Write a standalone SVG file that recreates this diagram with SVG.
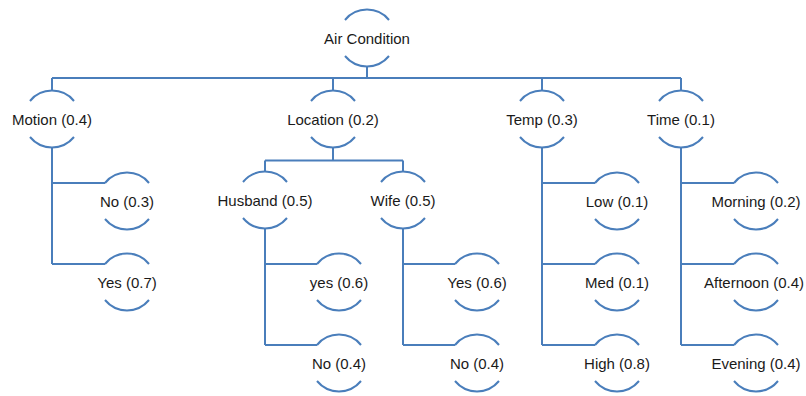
<svg xmlns="http://www.w3.org/2000/svg" xmlns:xlink="http://www.w3.org/1999/xlink" width="806" height="396" viewBox="0 0 806 396">
  <style>
    .ln { fill: none; stroke: #4a7ebb; stroke-width: 2; }
    .lbl { font-family: "Liberation Sans", Arial, sans-serif; font-size: 15px; fill: #1a1a1a; text-anchor: middle; }
  </style>
  <defs>
    <!-- node outline: circle r=28.5 with its sides left open for the label -->
    <path id="ring" class="ln" d="M -22 -18 A 28.5 28.5 0 0 1 22 -18 M 22 18 A 28.5 28.5 0 0 1 -22 18"/>
  </defs>
  <rect width="806" height="396" fill="#ffffff"/>

  <g id="connectors" class="ln">
    <!-- root to first level -->
    <path d="M 367 66.5 V 78 M 52 78 H 681 M 52 78 V 90.5 M 333 78 V 90.5 M 542 78 V 90.5 M 681 78 V 90.5"/>
    <!-- Motion -->
    <path d="M 52 147.5 V 264 M 52 183 H 105 M 52 264 H 105"/>
    <!-- Location -->
    <path d="M 333 147.5 V 160.5 M 265 160.5 H 403 M 265 160.5 V 171.5 M 403 160.5 V 171.5"/>
    <!-- Husband -->
    <path d="M 265 228.5 V 345 M 265 264 H 317 M 265 345 H 317"/>
    <!-- Wife -->
    <path d="M 403 228.5 V 345 M 403 264 H 455 M 403 345 H 455"/>
    <!-- Temp -->
    <path d="M 542 147.5 V 345 M 542 183 H 595 M 542 264 H 595 M 542 345 H 595"/>
    <!-- Time -->
    <path d="M 681 147.5 V 345 M 681 183 H 734 M 681 264 H 734 M 681 345 H 734"/>
  </g>

  <g id="air-condition"><use xlink:href="#ring" x="367" y="38"/><text class="lbl" x="367" y="43.5">Air Condition</text></g>

  <g id="motion"><use xlink:href="#ring" x="52" y="119"/><text class="lbl" x="52" y="124.5">Motion (0.4)</text></g>
  <g id="location"><use xlink:href="#ring" x="333" y="119"/><text class="lbl" x="333" y="124.5">Location (0.2)</text></g>
  <g id="temp"><use xlink:href="#ring" x="542" y="119"/><text class="lbl" x="542" y="124.5">Temp (0.3)</text></g>
  <g id="time"><use xlink:href="#ring" x="681" y="119"/><text class="lbl" x="681" y="124.5">Time (0.1)</text></g>

  <g id="motion-no"><use xlink:href="#ring" x="127" y="201"/><text class="lbl" x="127" y="206.5">No (0.3)</text></g>
  <g id="motion-yes"><use xlink:href="#ring" x="127" y="282"/><text class="lbl" x="127" y="287.5">Yes (0.7)</text></g>

  <g id="husband"><use xlink:href="#ring" x="265" y="200"/><text class="lbl" x="265" y="205.5">Husband (0.5)</text></g>
  <g id="wife"><use xlink:href="#ring" x="403" y="200"/><text class="lbl" x="403" y="205.5">Wife (0.5)</text></g>

  <g id="husband-yes"><use xlink:href="#ring" x="339" y="282"/><text class="lbl" x="339" y="287.5">yes (0.6)</text></g>
  <g id="husband-no"><use xlink:href="#ring" x="339" y="363"/><text class="lbl" x="339" y="368.5">No (0.4)</text></g>
  <g id="wife-yes"><use xlink:href="#ring" x="477" y="282"/><text class="lbl" x="477" y="287.5">Yes (0.6)</text></g>
  <g id="wife-no"><use xlink:href="#ring" x="477" y="363"/><text class="lbl" x="477" y="368.5">No (0.4)</text></g>

  <g id="temp-low"><use xlink:href="#ring" x="617" y="201"/><text class="lbl" x="617" y="206.5">Low (0.1)</text></g>
  <g id="temp-med"><use xlink:href="#ring" x="617" y="282"/><text class="lbl" x="617" y="287.5">Med (0.1)</text></g>
  <g id="temp-high"><use xlink:href="#ring" x="617" y="363"/><text class="lbl" x="617" y="368.5">High (0.8)</text></g>

  <g id="time-morning"><use xlink:href="#ring" x="756" y="201"/><text class="lbl" x="756" y="206.5">Morning (0.2)</text></g>
  <g id="time-afternoon"><use xlink:href="#ring" x="756" y="282"/><text class="lbl" x="754" y="287.5">Afternoon (0.4)</text></g>
  <g id="time-evening"><use xlink:href="#ring" x="756" y="363"/><text class="lbl" x="756" y="368.5">Evening (0.4)</text></g>
</svg>
